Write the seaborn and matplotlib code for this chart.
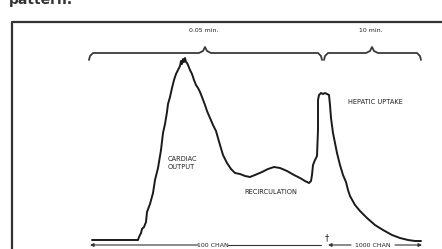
import numpy as np
import pandas as pd
import matplotlib
matplotlib.use("Agg")
import matplotlib.pyplot as plt
import seaborn as sns

# ---- data (arbitrary channel units / counts) ----
channel = [2, 48, 49, 51, 52, 54, 56, 57, 60, 63, 65, 68, 71, 73, 75, 77, 78, 80, 82, 84,
           86, 88, 90, 91, 92, 93, 94, 95, 96, 97, 98, 100, 102, 104, 106, 108, 110, 112, 115, 117,
           120, 123, 126, 128, 130, 133, 137, 141, 145, 150, 155, 160, 165, 172, 178, 184, 190, 197, 204, 210,
           215, 219, 221, 222, 223, 225, 227, 228, 228, 229, 231, 233, 235, 237, 239, 240, 241, 243, 245, 247,
           250, 253, 256, 258, 260, 265, 270, 277, 285, 293, 302, 310, 318, 325, 331]
counts = [0, 0, 3, 7, 11, 13, 18, 28, 36, 47, 60, 72, 90, 107, 116, 128, 136, 143, 152, 160,
          166, 170, 174, 179, 176, 181, 178, 182, 178, 177, 175, 170, 166, 160, 155, 152, 148, 143, 135, 129,
          122, 115, 109, 102, 95, 85, 77, 71, 67, 66, 64, 63, 65, 68, 71, 73, 72, 69, 65, 62,
          59, 57, 59, 65, 75, 80, 84, 110, 140, 145, 147, 146, 147, 146, 145, 135, 122, 107, 97, 87,
          75, 65, 58, 50, 44, 35, 29, 22, 15, 10, 5, 2, 0, -1, -1]

phase_labels = ["CARDIAC\nOUTPUT", "RECIRCULATION", "HEPATIC UPTAKE"]
time_labels = ["0.05 min.", "10 min."]
channel_labels = ["100 CHAN", "1000 CHAN"]

df = pd.DataFrame({"channel": channel, "counts": counts})

sns.set_theme(style="white")
plt.rcParams["font.family"] = ["DejaVu Sans"]

fig = plt.figure(figsize=(4.42, 2.49), dpi=100)
ax = fig.add_axes([0, 0, 1, 1])
ax.set_xlim(-90, 352)
ax.set_ylim(-9, 240)
ax.axis("off")

def P(px, py):
    return px - 90, 240 - py

ink = "#222222"

sns.lineplot(data=df, x="channel", y="counts", sort=False, estimator=None,
             color="#1a1a1a", linewidth=1.4, ax=ax)

# frame of the figure box
bx, by = zip(*[P(12, 262), P(12, 22), P(460, 22)])
ax.plot(bx, by, color="#333333", lw=1.6, solid_capstyle="butt")

# braces
def brace(x0, x1, xt, yl=53):
    pts = [(x0, 60), (x0 + 1, 56), (x0 + 4, yl), (xt - 6, yl), (xt - 2, yl - 2), (xt, yl - 6),
           (xt + 2, yl - 2), (xt + 6, yl), (x1 - 4, yl), (x1 - 1, 56), (x1, 60)]
    xs, ys = zip(*[P(a, b) for a, b in pts])
    ax.plot(xs, ys, color="#3a3a3a", lw=1.3)

brace(89, 322, 205)
brace(324, 421, 372)

ax.text(*P(204, 30), time_labels[0], ha="center", va="center", fontsize=4.5, color=ink)
ax.text(*P(371, 30), time_labels[1], ha="center", va="center", fontsize=4.5, color=ink)

# phase labels
ax.text(*P(168, 163), phase_labels[0], ha="left", va="center", fontsize=4.8,
        color=ink, linespacing=1.3)
ax.text(*P(271, 192), phase_labels[1], ha="center", va="center", fontsize=4.8, color=ink)
ax.text(*P(375, 102), phase_labels[2], ha="center", va="center", fontsize=4.8, color=ink)

# dagger
ax.text(*P(327, 238), "\u2020", ha="center", va="center", fontsize=6, color=ink)

# bottom channel arrows
ay = 245
arr = dict(arrowstyle="-|>", color="#333333", lw=0.8, mutation_scale=5, shrinkA=0, shrinkB=0)
ax.annotate("", xy=P(90, ay), xytext=P(198, ay), arrowprops=arr)
ax.plot(*zip(P(228, ay), P(321, ay)), color="#333333", lw=0.8)
ax.annotate("", xy=P(328, ay), xytext=P(351, ay), arrowprops=arr)
ax.annotate("", xy=P(422, ay), xytext=P(395, ay), arrowprops=arr)
ax.text(*P(213, ay), channel_labels[0], ha="center", va="center", fontsize=4.5, color=ink)
ax.text(*P(373, ay), channel_labels[1], ha="center", va="center", fontsize=4.5, color=ink)

# cut-off caption above
ax.text(*P(9, 3.5), "pattern.", ha="left", va="baseline", fontsize=10,
        fontweight="bold", color="#333333")

fig.savefig("out.png", dpi=100)
